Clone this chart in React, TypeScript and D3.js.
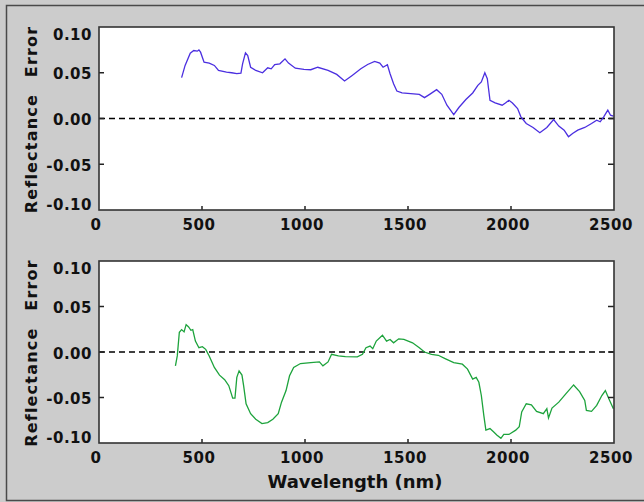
import React, { useEffect, useRef } from 'react';
import * as d3 from 'd3';

// tick values
const xTicks = [0, 500, 1000, 1500, 2000, 2500];
const yTicks = [0.1, 0.05, 0, -0.05, -0.1];
const yTickLabels = ['0.10', '0.05', '0.00', '-0.05', '-0.10'];

// upper panel (blue)
const topWavelength = [401, 418, 443, 460, 477, 485, 493, 510, 535, 560, 580, 619, 644, 669, 689, 697, 711, 722, 736, 761, 794, 819, 836, 853, 878, 903, 920, 953, 995, 1028, 1062, 1112, 1154, 1192, 1229, 1271, 1304, 1338, 1363, 1379, 1400, 1413, 1430, 1446, 1471, 1513, 1555, 1580, 1605, 1639, 1664, 1689, 1722, 1747, 1781, 1814, 1839, 1856, 1873, 1885, 1898, 1923, 1957, 1973, 1990, 2007, 2032, 2048, 2074, 2107, 2140, 2174, 2207, 2232, 2258, 2279, 2299, 2324, 2358, 2391, 2416, 2433, 2450, 2470, 2483, 2497];
const topError = [0.0446, 0.058, 0.0714, 0.0743, 0.0736, 0.075, 0.0725, 0.0616, 0.0605, 0.058, 0.0525, 0.0507, 0.05, 0.049, 0.0496, 0.0598, 0.0717, 0.0688, 0.056, 0.0525, 0.05, 0.0554, 0.0543, 0.059, 0.0598, 0.0652, 0.0605, 0.055, 0.0536, 0.0533, 0.056, 0.0525, 0.0482, 0.041, 0.0471, 0.0543, 0.059, 0.0623, 0.0605, 0.056, 0.0587, 0.0489, 0.038, 0.03, 0.0279, 0.0272, 0.0264, 0.0228, 0.0264, 0.0315, 0.0264, 0.0145, 0.0043, 0.012, 0.0207, 0.0279, 0.0362, 0.0399, 0.05, 0.0435, 0.0199, 0.017, 0.0145, 0.017, 0.0199, 0.017, 0.0109, 0.0018, -0.0054, -0.0098, -0.0156, -0.0098, -0.0011, -0.0083, -0.0127, -0.0199, -0.0163, -0.0127, -0.0098, -0.0054, -0.0018, -0.0036, 0.0018, 0.0091, 0.0036, 0.0025];

// lower panel (green)
const bottomWavelength = [371, 380, 390, 401, 413, 423, 435, 446, 455, 468, 485, 502, 518, 535, 560, 585, 610, 630, 649, 660, 669, 680, 694, 702, 714, 736, 761, 791, 819, 844, 870, 886, 908, 925, 945, 978, 1028, 1070, 1087, 1112, 1129, 1162, 1196, 1254, 1279, 1296, 1316, 1329, 1346, 1376, 1396, 1413, 1430, 1455, 1480, 1522, 1555, 1580, 1614, 1647, 1680, 1722, 1764, 1789, 1814, 1831, 1844, 1856, 1868, 1878, 1898, 1915, 1931, 1951, 1965, 1990, 2023, 2040, 2052, 2074, 2099, 2124, 2157, 2174, 2182, 2199, 2232, 2266, 2304, 2333, 2358, 2366, 2391, 2416, 2441, 2458, 2475, 2497];
const bottomError = [-0.0152, -0.0043, 0.0217, 0.0246, 0.0221, 0.0301, 0.0275, 0.0239, 0.0246, 0.012, 0.0047, 0.0058, 0.0029, -0.0043, -0.017, -0.0254, -0.0304, -0.037, -0.0507, -0.0507, -0.0279, -0.0207, -0.0254, -0.037, -0.0569, -0.0678, -0.0739, -0.0786, -0.0775, -0.0739, -0.0678, -0.0551, -0.0424, -0.0261, -0.017, -0.0127, -0.0116, -0.0109, -0.0152, -0.0109, -0.0025, -0.0043, -0.0051, -0.0054, -0.0025, 0.0047, 0.0065, 0.0036, 0.012, 0.0185, 0.012, 0.0138, 0.0101, 0.0145, 0.0138, 0.0101, 0.0047, 0.0, -0.0025, -0.0036, -0.0072, -0.0116, -0.0134, -0.0188, -0.0297, -0.0279, -0.0333, -0.0478, -0.0696, -0.0859, -0.0841, -0.0877, -0.0913, -0.0949, -0.0906, -0.0906, -0.0859, -0.0822, -0.0659, -0.0569, -0.058, -0.0652, -0.0678, -0.0623, -0.0725, -0.0616, -0.0551, -0.046, -0.0362, -0.0435, -0.0533, -0.0641, -0.0652, -0.0587, -0.0478, -0.0424, -0.0514, -0.0623];

const W = 644;
const H = 502;
const FONT = "'DejaVu Sans', Verdana, sans-serif";

const panels = [
  { wl: topWavelength, err: topError, color: '#4b2fe0', top: 27, bottom: 210, xlabel: false },
  { wl: bottomWavelength, err: bottomError, color: '#1da33c', top: 261, bottom: 443, xlabel: true },
];

const App = () => {
  const svgRef = useRef(null);

  useEffect(() => {
    const svg = d3.select(svgRef.current);
    svg.selectAll('*').remove();

    svg.append('rect').attr('width', W).attr('height', H).attr('fill', '#cccccc');
    // window frame
    svg.append('path')
      .attr('d', `M${W},5.5 H6.5 V500.5 H${W}`)
      .attr('fill', 'none').attr('stroke', '#4a4a4a').attr('stroke-width', 1.5);

    const left = 99;
    const right = 614;
    const x = d3.scaleLinear().domain([0, 2500]).range([left, right]);

    panels.forEach(p => {
      const y = d3.scaleLinear().domain([-0.1, 0.1]).range([p.bottom, p.top]);
      const g = svg.append('g');

      g.append('rect')
        .attr('x', left).attr('y', p.top)
        .attr('width', right - left).attr('height', p.bottom - p.top)
        .attr('fill', '#ffffff');

      // zero line
      g.append('line')
        .attr('x1', left).attr('x2', right)
        .attr('y1', y(0)).attr('y2', y(0))
        .attr('stroke', '#000').attr('stroke-width', 1.4)
        .attr('stroke-dasharray', '6,4');

      const line = d3.line().x(d => x(d[0])).y(d => y(d[1]));
      g.append('path')
        .datum(p.wl.map((w, i) => [w, p.err[i]]))
        .attr('d', line)
        .attr('fill', 'none')
        .attr('stroke', p.color)
        .attr('stroke-width', 1.3);

      // inward ticks
      yTicks.slice(1, -1).forEach(t => {
        g.append('line').attr('x1', left).attr('x2', left + 5)
          .attr('y1', y(t)).attr('y2', y(t)).attr('stroke', '#222').attr('stroke-width', 1.5);
        g.append('line').attr('x1', right - 6).attr('x2', right)
          .attr('y1', y(t)).attr('y2', y(t)).attr('stroke', '#222').attr('stroke-width', 1.5);
      });
      xTicks.slice(1, -1).forEach(t => {
        g.append('line').attr('x1', x(t)).attr('x2', x(t))
          .attr('y1', p.bottom).attr('y2', p.bottom - 4).attr('stroke', '#222').attr('stroke-width', 1.5);
      });

      g.append('rect')
        .attr('x', left).attr('y', p.top)
        .attr('width', right - left).attr('height', p.bottom - p.top)
        .attr('fill', 'none').attr('stroke', '#333').attr('stroke-width', 1.6);

      // tick labels
      yTicks.forEach((t, i) => {
        const by = Math.max(p.top + 13, Math.min(p.bottom, y(t) + 6.5));
        g.append('text')
          .attr('x', 92).attr('y', by)
          .attr('text-anchor', 'end')
          .attr('font-family', FONT).attr('font-weight', 'bold').attr('font-size', 15)
          .attr('letter-spacing', 0.5)
          .attr('fill', '#111')
          .text(yTickLabels[i]);
      });
      xTicks.forEach(t => {
        g.append('text')
          .attr('x', x(t) - 3).attr('y', p.bottom + 20)
          .attr('text-anchor', 'middle')
          .attr('font-family', FONT).attr('font-weight', 'bold').attr('font-size', 15)
          .attr('letter-spacing', 0.6)
          .attr('fill', '#111')
          .text(t);
      });

      g.append('text')
        .attr('transform', `translate(37,${(p.top + p.bottom) / 2 + 1}) rotate(-90)`)
        .attr('text-anchor', 'middle')
        .attr('font-family', FONT).attr('font-weight', 'bold').attr('font-size', 16)
        .attr('letter-spacing', 1.2)
        .attr('word-spacing', 10)
        .attr('fill', '#111')
        .text('Reflectance Error');

      if (p.xlabel) {
        g.append('text')
          .attr('x', 355).attr('y', 488)
          .attr('text-anchor', 'middle')
          .attr('font-family', FONT).attr('font-weight', 'bold').attr('font-size', 18)
          .attr('fill', '#111')
          .text('Wavelength (nm)');
      }
    });
  }, []);

  return (
    <div style={{ position: 'absolute', left: 0, top: 0 }}>
      <svg ref={svgRef} width={W} height={H} style={{ display: 'block' }}></svg>
    </div>
  );
};

export default App;
